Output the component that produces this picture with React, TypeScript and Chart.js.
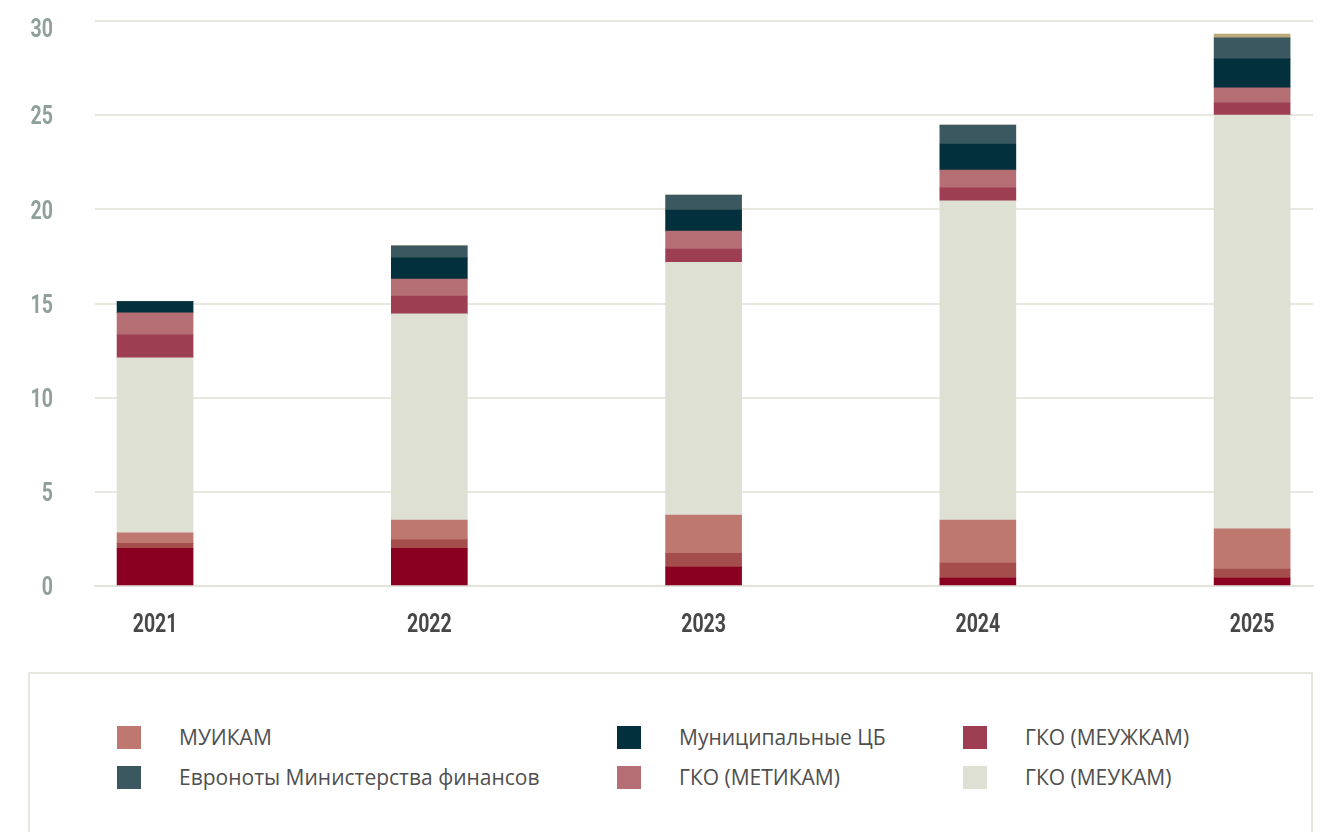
import React, { useEffect, useRef } from "react";
import { Chart, registerables } from "chart.js";

Chart.register(...registerables);

const years = ["2021", "2022", "2023", "2024", "2025"];
const yTicks = [0, 5, 10, 15, 20, 25, 30];

const otherA = [2.0, 2.0, 1.0, 0.42, 0.42];
const otherB = [0.27, 0.45, 0.74, 0.8, 0.48];
const muikam = [0.55, 1.05, 2.02, 2.28, 2.13];
const gkoMeukam = [9.29, 10.95, 13.43, 16.95, 21.98];
const gkoMeuzhkam = [1.22, 0.95, 0.7, 0.69, 0.65];
const gkoMetikam = [1.17, 0.9, 0.95, 0.95, 0.79];
const municipal = [0.6, 1.12, 1.12, 1.38, 1.54];
const euronotes = [0, 0.64, 0.8, 1.01, 1.11];
const otherC = [0, 0, 0, 0, 0.21];

const series = [
  { key: "a", label: "", values: otherA, color: "#8A0020" },
  { key: "b", label: "", values: otherB, color: "#A54C4C" },
  { key: "muikam", label: "МУИКАМ", values: muikam, color: "#BE7870" },
  { key: "meukam", label: "ГКО (МЕУКАМ)", values: gkoMeukam, color: "#DEE0D4" },
  { key: "meuzhkam", label: "ГКО (МЕУЖКАМ)", values: gkoMeuzhkam, color: "#9E3E52" },
  { key: "metikam", label: "ГКО (МЕТИКАМ)", values: gkoMetikam, color: "#B56E74" },
  { key: "municipal", label: "Муниципальные ЦБ", values: municipal, color: "#02303C" },
  { key: "euro", label: "Евроноты Министерства финансов", values: euronotes, color: "#3B5860" },
  { key: "c", label: "", values: otherC, color: "#BCA878" },
];

const legendOrder = ["muikam", "municipal", "meuzhkam", "euro", "metikam", "meukam"];
const legendPos = [
  { x: 117, y: 726 },
  { x: 617, y: 726 },
  { x: 963, y: 726 },
  { x: 117, y: 766 },
  { x: 617, y: 766 },
  { x: 963, y: 766 },
];

const TICK_SIZE = 26;
const TICK_SX = 0.75;

const condensedTicks = {
  id: "condensedTicks",
  afterDraw(chart: any) {
    const ctx = chart.ctx as CanvasRenderingContext2D;
    const xs = chart.scales.x;
    const ys = chart.scales.y;
    ctx.save();
    ctx.font = `bold ${TICK_SIZE}px Roboto, 'Noto Sans', sans-serif`;
    ctx.textBaseline = "alphabetic";
    const capHalf = (TICK_SIZE * 0.711) / 2;
    // y labels
    ctx.fillStyle = "#8FA09A";
    ctx.textAlign = "right";
    yTicks.forEach((v) => {
      const py = Math.max(ys.getPixelForValue(v), 27.5);
      ctx.save();
      ctx.translate(53, py + capHalf);
      ctx.scale(TICK_SX, 1);
      ctx.fillText(String(v), 0, 0);
      ctx.restore();
    });
    // x labels
    ctx.fillStyle = "#474747";
    ctx.textAlign = "center";
    const ly = chart.chartArea.bottom + 36.5;
    years.forEach((y, i) => {
      const px = xs.getPixelForValue(i);
      ctx.save();
      ctx.translate(px, ly + capHalf);
      ctx.scale(TICK_SX, 1);
      ctx.fillText(y, 0, 0);
      ctx.restore();
    });
    ctx.restore();
  },
};

export default function App() {
  const ref = useRef<HTMLCanvasElement | null>(null);

  useEffect(() => {
    if (!ref.current) return;
    const chart = new Chart(ref.current, {
      type: "bar",
      data: {
        datasets: series.map((s) => ({
          label: s.label,
          data: s.values.map((v, i) => ({ x: i, y: v })),
          backgroundColor: s.color,
          borderWidth: 0,
          barThickness: 76,
        })),
      },
      options: {
        responsive: false,
        animation: false,
        devicePixelRatio: 1,
        layout: { padding: { left: 0, right: 19, top: 21, bottom: 0 } },
        plugins: {
          legend: { display: false },
          tooltip: { enabled: false },
        },
        scales: {
          x: {
            type: "linear",
            stacked: true,
            offset: false,
            min: -0.219,
            max: 4.222,
            grid: { display: false, drawTicks: false, offset: false },
            border: { display: true, color: "#E3E3DA", width: 2 },
            afterFit: (scale: any) => {
              scale.height = 74;
            },
            ticks: { display: false, stepSize: 1, includeBounds: false },
          },
          y: {
            stacked: true,
            min: yTicks[0],
            max: yTicks[yTicks.length - 1],
            afterFit: (scale: any) => {
              scale.width = 95;
            },
            grid: { color: "#E8E8E0", lineWidth: 2, drawTicks: false },
            border: { display: false },
            ticks: { display: false, stepSize: 5 },
          },
        },
      },
      plugins: [condensedTicks],
    });
    return () => chart.destroy();
  }, []);

  const legendItems = legendOrder.map((k) => series.find((s) => s.key === k)!);

  return (
    <div
      style={{
        position: "absolute",
        left: 0,
        top: 0,
        width: 1332,
        height: 832,
        overflow: "hidden",
        background: "#fff",
      }}
    >
      <canvas ref={ref} width={1332} height={660} style={{ position: "absolute", left: 0, top: 0 }} />
      <div
        style={{
          position: "absolute",
          left: 28,
          top: 672,
          width: 1285,
          height: 220,
          boxSizing: "border-box",
          border: "2px solid #E6E6DC",
        }}
      />
      {legendItems.map((s, i) => (
        <div key={s.key}>
          <div
            style={{
              position: "absolute",
              left: legendPos[i].x,
              top: legendPos[i].y,
              width: 24,
              height: 23,
              background: s.color,
            }}
          />
          <div
            style={{
              position: "absolute",
              left: legendPos[i].x + 62,
              top: legendPos[i].y - 3,
              height: 29,
              lineHeight: "29px",
              fontFamily: "'Open Sans', sans-serif",
              fontSize: 21,
              color: "#4F4F4F",
              whiteSpace: "nowrap",
            }}
          >
            {s.label}
          </div>
        </div>
      ))}
    </div>
  );
}
